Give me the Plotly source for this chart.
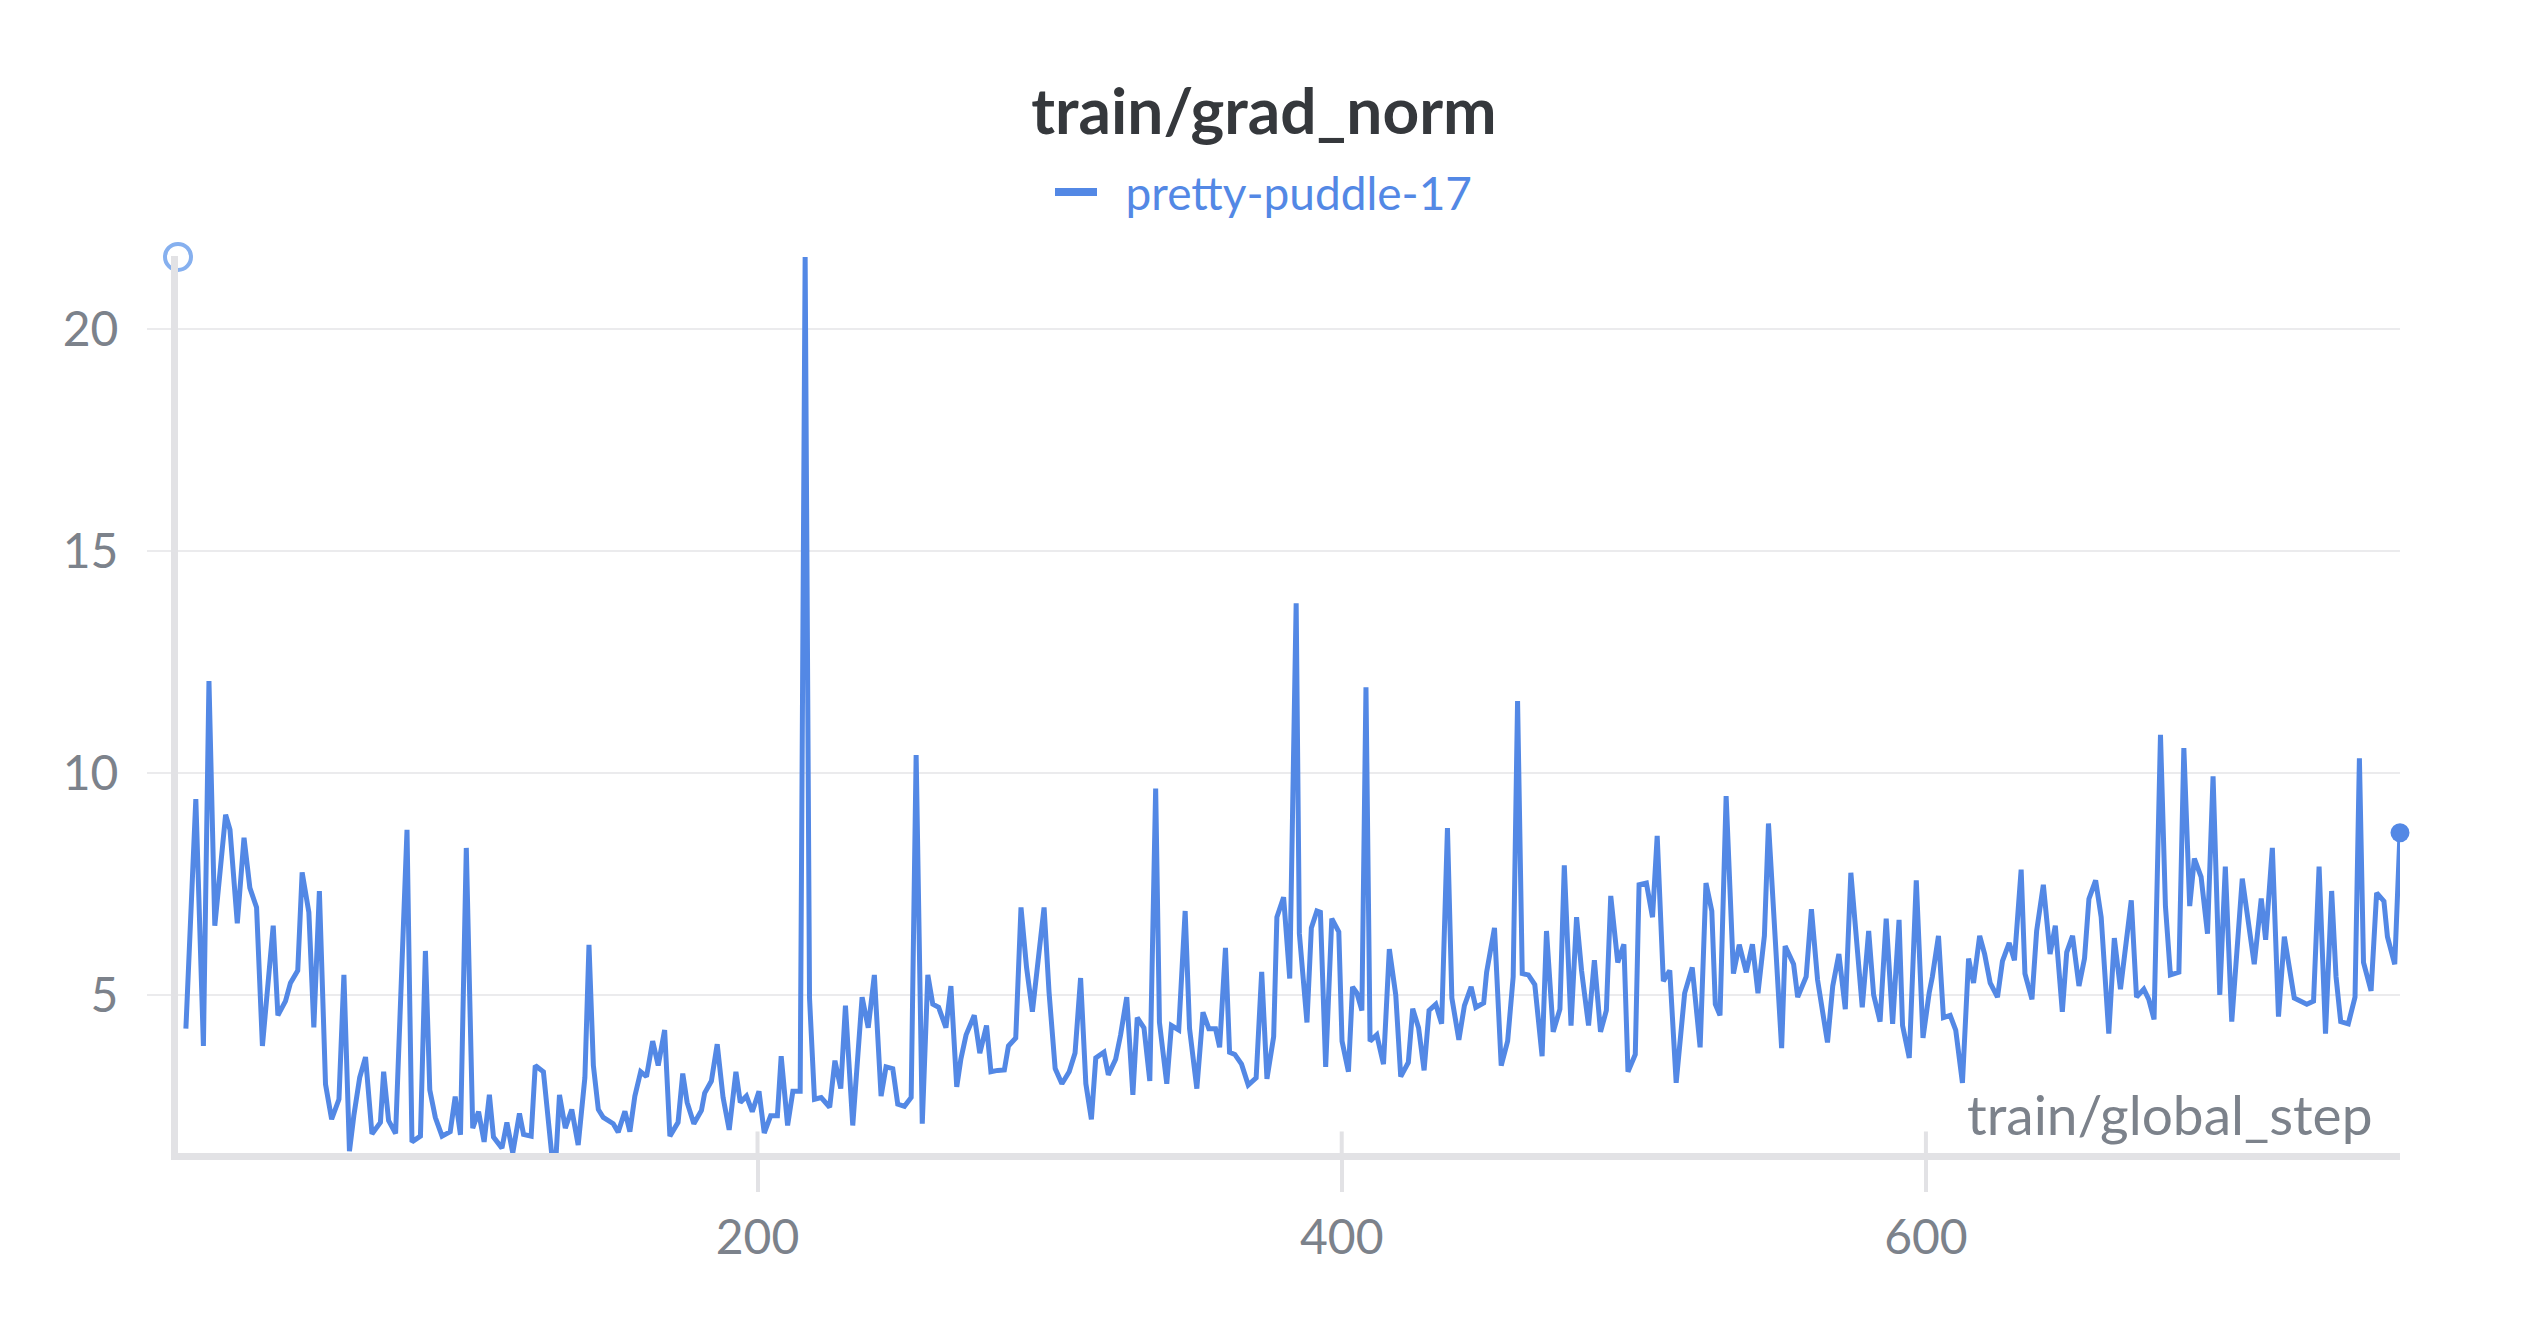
import plotly.graph_objects as go

# train/global_step values
steps = [
    4.3, 7.7, 10.3, 12.2, 14.2, 17.9, 19.4, 21.9, 24.2, 26.2, 28.5, 30.5, 34.2, 35.8, 38.4, 40.1,
    42.6, 44.1, 46.4, 48.1, 50.0, 52.1, 54.2, 56.7, 58.4, 60.3, 61.8, 63.8, 65.8, 68.0, 70.9, 72.0,
    73.7, 76.1, 80.0, 81.7, 84.6, 86.3, 87.8, 89.7, 92.0, 94.8, 96.5, 98.3, 100.3, 102.5, 104.5,
    106.4, 108.2, 109.6, 112.5, 114.2, 116.2, 118.5, 119.9, 122.5, 123.9, 126.7, 129.5, 131.0,
    132.2, 134.2, 136.4, 138.6, 140.9, 142.3, 143.8, 145.5, 147.2, 150.6, 152.3, 154.6, 156.3,
    158.0, 160.0, 162.0, 164.1, 166.0, 168.2, 170.0, 172.8, 174.4, 175.9, 178.2, 180.8, 181.9,
    184.2, 186.2, 188.2, 190.3, 192.6, 194.1, 196.2, 198.2, 200.5, 202.3, 204.5, 206.8, 208.1,
    210.3, 212.1, 214.6, 216.3, 217.8, 219.5, 221.8, 224.7, 226.5, 228.5, 230.1, 232.6, 235.8,
    237.9, 240.0, 242.3, 244.0, 246.3, 248.0, 250.3, 252.6, 254.3, 256.4, 258.3, 260.0, 262.0,
    264.5, 266.2, 268.2, 269.6, 271.4, 274.2, 276.1, 278.4, 279.9, 282.2, 284.5, 285.9, 288.4,
    290.2, 292.1, 294.1, 298.1, 299.8, 301.9, 304.2, 306.7, 308.7, 310.6, 312.4, 314.3, 315.8,
    318.6, 320.1, 322.6, 324.3, 326.4, 328.5, 330.0, 332.3, 334.3, 336.3, 337.6, 340.1, 341.7,
    344.2, 346.4, 347.9, 350.4, 352.5, 354.5, 356.8, 358.2, 360.2, 361.6, 363.4, 365.7, 368.0,
    370.7, 372.6, 374.4, 376.7, 377.8, 380.1, 382.2, 384.4, 385.5, 388.1, 389.6, 391.5, 392.7,
    394.5, 396.6, 399.0, 400.1, 402.3, 403.7, 405.2, 406.9, 408.3, 409.7, 412.0, 414.3, 416.3,
    418.5, 420.2, 422.8, 424.3, 426.3, 428.2, 429.9, 432.2, 434.2, 436.2, 437.7, 440.1, 442.0,
    444.3, 445.9, 448.6, 449.6, 452.3, 454.6, 456.8, 458.7, 460.2, 461.8, 463.9, 466.1, 468.6,
    470.1, 472.4, 474.7, 476.2, 478.5, 480.4, 482.1, 484.5, 486.5, 488.6, 490.6, 492.1, 494.5,
    496.6, 498.0, 500.5, 501.8, 504.3, 506.4, 508.0, 510.1, 512.3, 514.5, 517.4, 520.0, 522.7,
    524.7, 526.7, 527.9, 529.5, 531.6, 534.1, 536.1, 538.5, 540.6, 542.5, 544.7, 546.1, 548.1,
    550.6, 551.8, 554.7, 556.1, 559.0, 560.8, 562.9, 566.3, 568.1, 570.2, 572.4, 574.3, 575.7,
    578.2, 580.4, 582.1, 584.3, 586.4, 588.6, 590.8, 592.0, 594.3, 596.7, 599.0, 601.1, 602.2,
    604.3, 606.0, 608.3, 610.2, 612.5, 614.6, 616.3, 618.4, 620.1, 622.0, 624.5, 626.2, 628.5,
    630.3, 632.6, 633.9, 636.3, 637.9, 640.2, 642.5, 644.3, 646.7, 648.2, 650.2, 652.4, 654.3,
    655.8, 658.1, 660.0, 662.6, 664.5, 666.6, 670.3, 672.1, 674.6, 676.3, 678.1, 680.3, 682.0,
    683.7, 686.6, 688.3, 690.3, 691.9, 694.2, 696.4, 698.3, 700.6, 702.5, 704.7, 708.3, 712.4,
    714.8, 716.3, 718.6, 720.7, 722.7, 726.1, 730.4, 732.7, 734.6, 736.8, 738.9, 740.4, 742.0,
    744.6, 746.9, 748.4, 749.8, 752.4, 754.3, 756.8, 758.0, 760.5, 762.3,
]

# train/grad_norm values
grad_norm = [
    4.25, 9.42, 3.86, 12.08, 6.57, 9.07, 8.73, 6.62, 8.55, 7.42, 6.98, 3.86, 6.57, 4.55, 4.87, 5.28,
    5.56, 7.77, 6.87, 4.28, 7.35, 3.00, 2.21, 2.66, 5.46, 1.49, 2.29, 3.15, 3.61, 1.88, 2.14, 3.28,
    2.18, 1.89, 8.73, 1.70, 1.83, 6.00, 2.87, 2.25, 1.83, 1.93, 2.72, 1.86, 8.32, 2.01, 2.38,
    1.70, 2.76, 1.81, 1.56, 2.14, 1.45, 2.34, 1.87, 1.83, 3.42, 3.28, 1.45, 1.35,
    2.76, 2.01, 2.43, 1.63, 3.15, 6.14, 3.42, 2.43, 2.25, 2.11, 1.92, 2.39, 1.93,
    2.73, 3.28, 3.17, 3.97, 3.42, 4.22, 1.83, 2.14, 3.24, 2.59, 2.11, 2.41, 2.80,
    3.07, 3.90, 2.70, 1.97, 3.28, 2.59, 2.73, 2.38, 2.84, 1.90, 2.29, 2.29, 3.63,
    2.07, 2.84, 2.84, 21.63, 4.94, 2.66, 2.70, 2.48, 3.53, 2.90, 4.77, 2.07, 4.96,
    4.27, 5.46, 2.73, 3.39, 3.35, 2.55, 2.50, 2.70, 10.41, 2.11, 5.46, 4.80, 4.73,
    4.27, 5.21, 2.94, 3.56, 4.11, 4.55, 3.70, 4.32, 3.28, 3.31, 3.32, 3.86, 4.04,
    6.98, 5.63, 4.63, 6.98, 5.07, 3.35, 3.01, 3.28, 3.70, 5.39, 3.01, 2.21, 3.59,
    3.72, 3.21, 3.56, 4.11, 4.96, 2.76, 4.50, 4.27, 3.07, 9.66, 4.39, 3.01, 4.32,
    4.22, 6.90, 4.25, 2.90, 4.62, 4.25, 4.25, 3.83, 6.07, 3.72, 3.67, 3.45, 2.98,
    3.14, 5.53, 3.12, 4.07, 6.76, 7.21, 5.38, 13.83, 6.39, 4.39, 6.52, 6.90, 6.87,
    3.39, 6.73, 6.43, 3.97, 3.28, 5.19, 5.05, 4.66, 11.94, 3.97, 4.11, 3.45, 6.04,
    5.01, 3.17, 3.49, 4.70, 4.27, 3.31, 4.66, 4.80, 4.36, 8.77, 4.94, 4.00, 4.77,
    5.19, 4.73, 4.83, 5.52, 6.52, 3.42, 3.97, 5.42, 11.63, 5.49, 5.46, 5.24, 3.63,
    6.45, 4.18, 4.69, 7.93, 4.32, 6.76, 5.56, 4.32, 5.79, 4.18, 4.66, 7.24, 5.74,
    6.15, 3.28, 3.67, 7.49, 7.53, 6.76, 8.59, 5.32, 5.56, 3.03, 5.05, 5.63, 3.83,
    7.53, 6.90, 4.80, 4.55, 9.49, 5.49, 6.14, 5.52, 6.15, 5.05, 6.34, 8.87, 6.76,
    3.81, 6.11, 5.70, 4.96, 5.42, 6.94, 5.35, 3.94, 5.21, 5.93, 4.69, 7.76, 6.59,
    4.73, 6.45, 5.01, 4.41, 6.73, 4.36, 6.70, 4.32, 3.59, 7.59, 4.04, 5.05, 5.42,
    6.34, 4.50, 4.55, 4.22, 3.03, 5.83, 5.28, 6.34, 5.93, 5.28, 4.96, 5.77, 6.18,
    5.79, 7.83, 5.49, 4.91, 6.45, 7.49, 5.93, 6.57, 4.63, 5.97, 6.34, 5.21, 5.83,
    7.17, 7.59, 6.76, 4.14, 6.29, 5.14, 7.14, 4.96, 5.14, 4.91, 4.46, 10.87, 7.01,
    5.46, 5.52, 10.57, 7.01, 8.08, 7.67, 6.39, 9.93, 5.01, 7.90, 4.41, 7.63, 5.70,
    7.18, 6.25, 8.32, 4.52, 6.32, 4.94, 4.80, 4.87, 7.90, 4.14, 7.35, 5.42, 4.41,
    4.36, 4.96, 10.34, 5.74, 5.10, 7.31, 7.12, 6.32, 5.70, 8.66,
]

run_name = "pretty-puddle-17"
x_tickvals = [200, 400, 600]
y_tickvals = [5, 10, 15, 20]
x_range = [1.6, 762.3]
y_range = [1.45, 21.65]

line_color = "#5388e5"
axis_color = "#e2e2e5"
grid_color = "#ebebed"
text_gray = "#7c828b"
font_family = "Lato, 'Noto Sans', sans-serif"

fig = go.Figure()

# Main series
fig.add_trace(go.Scatter(
    x=steps,
    y=grad_norm,
    mode="lines",
    name=run_name,
    line=dict(color=line_color, width=5),
    showlegend=False,
    hovertemplate="step = %{x}<br>grad_norm = %{y}<extra></extra>",
))

# Legend entry with a thicker swatch, as in the W&B panel
fig.add_trace(go.Scatter(
    x=[None],
    y=[None],
    mode="lines",
    name="\u00a0\u00a0" + run_name,
    line=dict(color=line_color, width=8),
    hoverinfo="skip",
))

# Filled dot on the last point
fig.add_trace(go.Scatter(
    x=steps[-1:],
    y=grad_norm[-1:],
    mode="markers",
    marker=dict(color=line_color, size=19),
    showlegend=False,
    cliponaxis=False,
    hoverinfo="skip",
))

# Hollow max indicator on the y axis
fig.add_trace(go.Scatter(
    x=[x_range[0]],
    y=[max(grad_norm)],
    mode="markers",
    marker=dict(color="white", size=26, line=dict(color="#86b0ef", width=4)),
    showlegend=False,
    cliponaxis=False,
    hoverinfo="skip",
))

# Short tick stubs poking above the x axis line
for v in x_tickvals:
    fig.add_shape(
        type="line", xref="x", yref="paper",
        x0=v, x1=v, y0=0, y1=0.024,
        line=dict(color=axis_color, width=4),
        layer="below",
    )

fig.add_annotation(
    text="train/global_step",
    xref="paper", yref="paper",
    x=1, y=0.043,
    xanchor="right", yanchor="middle",
    xshift=-26,
    showarrow=False,
    font=dict(family=font_family, size=55, color=text_gray),
)

fig.update_layout(
    width=2528,
    height=1328,
    margin=dict(l=178, r=128, t=256, b=175),
    paper_bgcolor="white",
    plot_bgcolor="white",
    font=dict(family=font_family, color=text_gray),
    title=dict(
        text="train/grad_norm",
        x=0.5,
        xanchor="center",
        y=1 - 112 / 1328,
        yanchor="middle",
        font=dict(family=font_family, size=64, color="#35383c", weight=700),
    ),
    legend=dict(
        orientation="h",
        xref="container",
        x=0.5,
        xanchor="center",
        yref="container",
        y=1 - 192 / 1328,
        yanchor="middle",
        font=dict(family=font_family, size=46, color=line_color),
        itemwidth=42,
    ),
    xaxis=dict(
        range=x_range,
        tickvals=x_tickvals,
        showgrid=False,
        zeroline=False,
        showline=True,
        linecolor=axis_color,
        linewidth=7,
        ticks="outside",
        ticklen=32,
        tickwidth=4,
        tickcolor=axis_color,
        ticklabelstandoff=4,
        tickfont=dict(family=font_family, size=48, color=text_gray),
    ),
    yaxis=dict(
        range=y_range,
        tickvals=y_tickvals,
        showgrid=True,
        gridcolor=grid_color,
        gridwidth=2,
        zeroline=False,
        showline=True,
        linecolor=axis_color,
        linewidth=7,
        ticks="outside",
        ticklen=24,
        tickwidth=2,
        tickcolor=grid_color,
        ticklabelstandoff=19,
        tickfont=dict(family=font_family, size=48, color=text_gray),
    ),
    hovermode="closest",
)

fig.write_html(
    "out.html",
    config={"displayModeBar": False},
    post_script="document.body.style.margin='0';",
)
